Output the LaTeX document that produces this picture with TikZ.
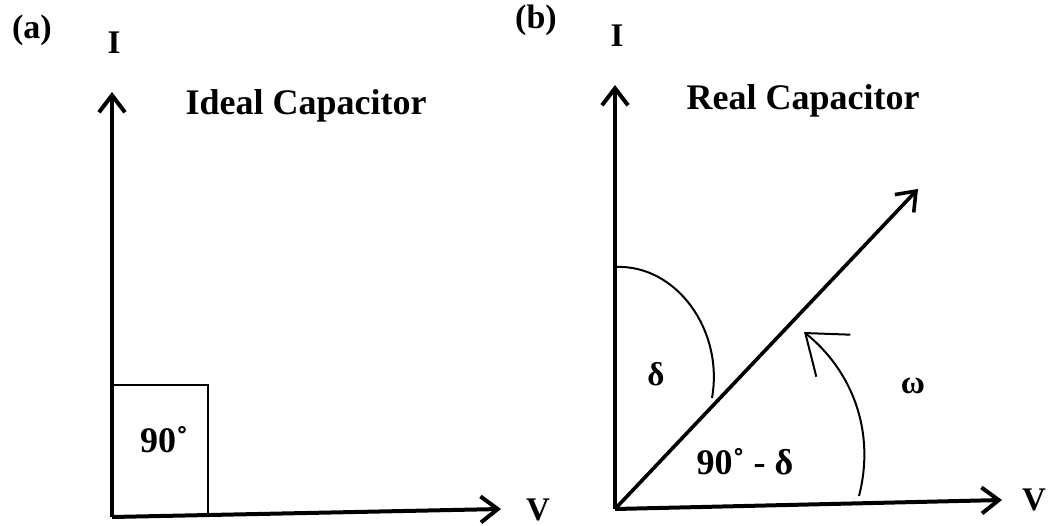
\documentclass[tikz,border=0pt]{standalone}
\usepackage{fontspec}
\setmainfont{Liberation Serif}
\usetikzlibrary{arrows.meta}
\begin{document}
\begin{tikzpicture}[x=1pt,y=-1pt,
  axis/.style={line width=4pt,-{Straight Barb[length=17pt,width=26pt,line width=4pt]}},
  lbl/.style={font=\bfseries\fontsize{33}{36}\selectfont,inner sep=0pt},
  ttl/.style={font=\bfseries\fontsize{36}{40}\selectfont,inner sep=0pt},
  thin/.style={line width=2pt}]
\useasboundingbox (0,0) rectangle (1060,526);
% panel (a)
\coordinate (oa) at (112,517);
\coordinate (ya) at (112,92);
\coordinate (xa) at (501,509);
\draw[line width=2.4pt] (112,385) coordinate (b1) -- (208,385) coordinate (b2) -- (208,516) coordinate (b3);
\draw[axis] (oa) -- (ya);
\draw[axis] (oa) -- (xa);
\node[lbl,font=\bfseries\fontsize{34}{36}\selectfont] (la) at (32,30) {(a)};
\node[lbl] (ia) at (114,43) {I};
\node[lbl] (va) at (538,510) {V};
\node[ttl] (ta) at (306,106) {Ideal Capacitor};
\node[lbl,font=\bfseries\fontsize{36}{40}\selectfont] (na) at (164,440) {90˚};
% panel (b)
\coordinate (ob) at (615,509);
\coordinate (yb) at (615,85);
\coordinate (xb) at (1002,500);
\coordinate (db) at (918,189);
\draw[axis] (ob) -- (yb);
\draw[axis] (ob) -- (xb);
\draw[line width=3.6pt,-{Straight Barb[length=17pt,width=26pt,line width=3.6pt]}] (ob) -- (db);
\coordinate (d1) at (615,267);
\coordinate (d2) at (712,398);
\draw[thin] (d1) .. controls (676,264) and (724,330) .. (d2);
\coordinate (w1) at (859,496);
\coordinate (w2) at (804,332);
\draw[thin,-{Straight Barb[length=36pt,width=54pt,line width=2pt]}] (w1) .. controls (876,430) and (851,370) .. (w2);
\node[lbl,font=\bfseries\fontsize{34}{36}\selectfont] (lb) at (536,20) {(b)};
\node[lbl] (ib) at (617,36) {I};
\node[lbl] (vb) at (1034,500) {V};
\node[ttl] (tb) at (803,101) {Real Capacitor};
\node[lbl] (del) at (656,374) {δ};
\node[lbl] (om) at (913,386) {ω};
\node[lbl,font=\bfseries\fontsize{36}{40}\selectfont] (nd) at (745,462) {90˚ - δ};
\end{tikzpicture}
\end{document}
